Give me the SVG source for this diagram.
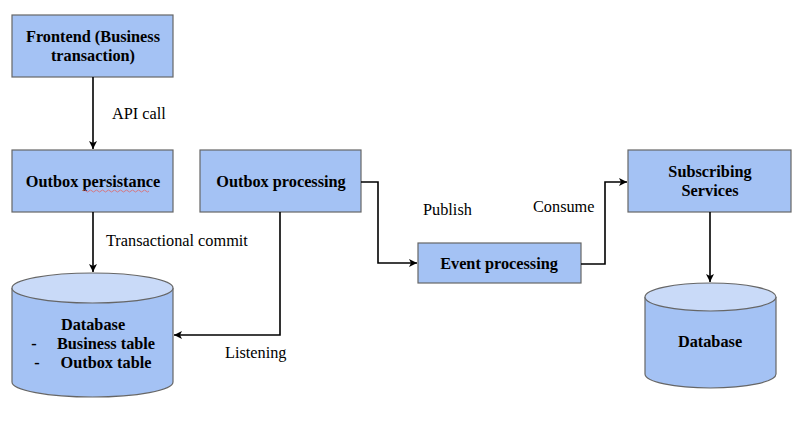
<svg xmlns="http://www.w3.org/2000/svg" width="800" height="439" viewBox="0 0 800 439">
<defs>
<marker id="arr" markerWidth="10" markerHeight="10" refX="9" refY="5" orient="auto" markerUnits="userSpaceOnUse">
<path d="M1,1 L9,5 L1,9 L3,5 Z" fill="#000"/>
</marker>
<style>
.box{fill:#a4c2f4;stroke:#666;stroke-width:1.2}
.top{fill:#c9daf8;stroke:#666;stroke-width:1.2}
.t{font-size:16.3px;font-weight:bold;fill:#000;text-anchor:middle}
.l{font-size:16.3px;fill:#000}
.c{fill:none;stroke:#000;stroke-width:1.6;marker-end:url(#arr)}
</style>
</defs>
<rect width="800" height="439" fill="#fff"/>
<g font-family="Liberation Serif, Times New Roman, serif">
<g id="frontend">
<rect class="box" x="12" y="15" width="161" height="62"/>
<text class="t" x="93" y="42">Frontend (Business</text>
<text class="t" x="93" y="61">transaction)</text>
</g>
<g id="outbox-persistance">
<rect class="box" x="12" y="150" width="161" height="62"/>
<text class="t" x="93" y="187">Outbox persistance</text>
<path d="M83,191 q1.5,-2 3,0 t3,0 t3,0 t3,0 t3,0 t3,0 t3,0 t3,0 t3,0 t3,0 t3,0 t3,0 t3,0 t3,0 t3,0 t3,0 t3,0 t3,0 t3,0 t3,0 t3,0 t3,0" fill="none" stroke="#e06666" stroke-width="0.8"/>
</g>
<g id="outbox-processing">
<rect class="box" x="200" y="150" width="161" height="62"/>
<text class="t" x="281" y="187">Outbox processing</text>
</g>
<g id="event-processing">
<rect class="box" x="418" y="243" width="163" height="40"/>
<text class="t" x="499" y="269">Event processing</text>
</g>
<g id="subscribing-services">
<rect class="box" x="628" y="150" width="163" height="62"/>
<text class="t" x="710" y="177">Subscribing</text>
<text class="t" x="710" y="196">Services</text>
</g>
<g id="database-1">
<path class="box" d="M12,288 L12,382 A80.5,15 0 0 0 173,382 L173,288"/>
<ellipse class="top" cx="92.5" cy="288" rx="80.5" ry="15"/>
<text class="t" x="93" y="330">Database</text>
<text class="t" x="34" y="349">-</text>
<text class="t" x="106" y="349">Business table</text>
<text class="t" x="37" y="368">-</text>
<text class="t" x="106" y="368">Outbox table</text>
</g>
<g id="database-2">
<path class="box" d="M645,297 L645,374 A65.5,14 0 0 0 776,374 L776,297"/>
<ellipse class="top" cx="710.5" cy="297" rx="65.5" ry="14"/>
<text class="t" x="710" y="347">Database</text>
</g>
<g id="connectors">
<path class="c" d="M93,77 L93,149"/>
<path class="c" d="M93,212 L93,272"/>
<path class="c" d="M280,212 L280,335 L174,335"/>
<path class="c" d="M361,182 L378,182 L378,263 L417,263"/>
<path class="c" d="M581,264 L605,264 L605,182 L627,182"/>
<path class="c" d="M710,212 L710,282"/>
</g>
<g id="labels">
<text class="l" x="112" y="119">API call</text>
<text class="l" x="106" y="246">Transactional commit</text>
<text class="l" x="225" y="358">Listening</text>
<text class="l" x="423" y="215">Publish</text>
<text class="l" x="533" y="212">Consume</text>
</g>
</g>
</svg>
